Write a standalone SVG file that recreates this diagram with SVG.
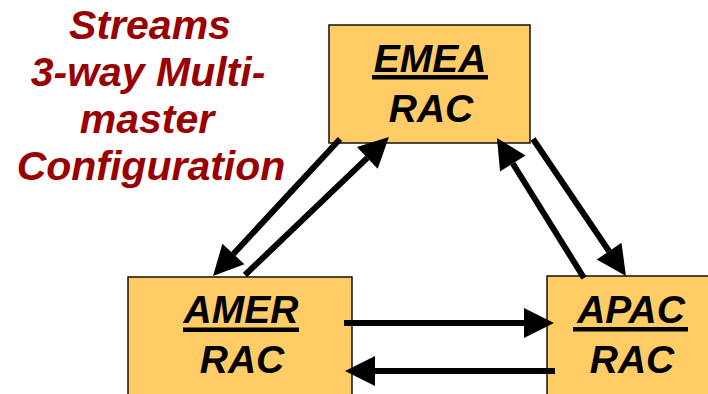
<svg xmlns="http://www.w3.org/2000/svg" width="708" height="394" viewBox="0 0 708 394">
<style>
.box{fill:#FFCC66;stroke:#111;stroke-width:1.5}
.lbl{font-family:"Liberation Sans",Arial,sans-serif;font-weight:bold;font-style:italic;font-size:39px;fill:#000;text-anchor:middle}
.ul{fill:#000}
.title{font-family:"Liberation Sans",Arial,sans-serif;font-weight:bold;font-style:italic;font-size:41px;fill:#990000;text-anchor:middle}
.arr{stroke:#000;stroke-width:6;fill:none;marker-end:url(#head)}
</style>
<defs>
<marker id="head" markerUnits="userSpaceOnUse" markerWidth="31" markerHeight="31" refX="0" refY="15" orient="auto" viewBox="0 0 31 30" overflow="visible">
<path d="M0,0 L30,15 L0,30 Z" fill="#000"/>
</marker>
</defs>
<g id="title">
<text class="title" x="150" y="39">Streams</text>
<text class="title" x="148" y="86">3-way Multi-</text>
<text class="title" x="147" y="133">master</text>
<text class="title" x="151" y="180">Configuration</text>
</g>
<g id="emea">
<rect class="box" x="329" y="25" width="201" height="118"/>
<text class="lbl" x="430" y="72">EMEA</text>
<rect class="ul" x="372" y="75" width="116" height="4.5"/>
<text class="lbl" x="431" y="122">RAC</text>
</g>
<g id="amer">
<rect class="box" x="128" y="277" width="224" height="130"/>
<text class="lbl" x="241" y="323">AMER</text>
<rect class="ul" x="183" y="327.5" width="116" height="4.5"/>
<text class="lbl" x="242" y="373">RAC</text>
</g>
<g id="apac">
<rect class="box" x="547" y="276" width="180" height="130"/>
<text class="lbl" x="631" y="323">APAC</text>
<rect class="ul" x="573" y="327" width="115" height="4.5"/>
<text class="lbl" x="632" y="373">RAC</text>
</g>
<g id="connectors">
<line class="arr" x1="340" y1="139" x2="233.4" y2="254"/>
<line class="arr" x1="245" y1="275" x2="367.3" y2="157.8"/>
<line class="arr" x1="584" y1="278" x2="512.8" y2="163.5"/>
<line class="arr" x1="533" y1="139" x2="609.1" y2="251.2"/>
<line class="arr" x1="344" y1="323" x2="524" y2="323"/>
<line class="arr" x1="555" y1="371" x2="375" y2="371"/>
</g>
</svg>
